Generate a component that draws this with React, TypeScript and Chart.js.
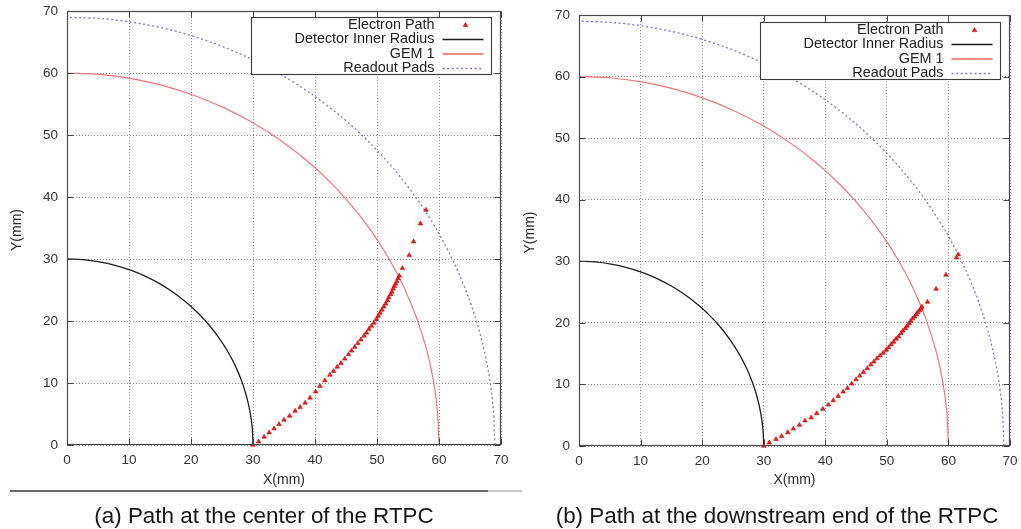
import { useEffect, useRef } from "react";
import { Chart, registerables } from "chart.js";

Chart.register(...registerables);

// ---------- data ----------
const AXIS_TICKS = [0, 10, 20, 30, 40, 50, 60, 70];
const SERIES_LABELS = ["Electron Path", "Detector Inner Radius", "GEM 1", "Readout Pads"];
const X_TITLE = "X(mm)";
const Y_TITLE = "Y(mm)";
const CAPTION_A = "(a) Path at the center of the RTPC";
const CAPTION_B = "(b) Path at the downstream end of the RTPC";

// Detector inner radius (r = 30 mm), points every 5 degrees
const innerRadiusPts: [number, number][] = [
  [30, 0], [29.89, 2.61], [29.54, 5.21], [28.98, 7.76], [28.19, 10.26], [27.19, 12.68],
  [25.98, 15], [24.57, 17.21], [22.98, 19.28], [21.21, 21.21], [19.28, 22.98], [17.21, 24.57],
  [15, 25.98], [12.68, 27.19], [10.26, 28.19], [7.76, 28.98], [5.21, 29.54], [2.61, 29.89], [0, 30],
];

// GEM 1 (r = 60 mm)
const gem1Pts: [number, number][] = [
  [60, 0], [59.77, 5.23], [59.09, 10.42], [57.96, 15.53], [56.38, 20.52], [54.38, 25.36],
  [51.96, 30], [49.15, 34.41], [45.96, 38.57], [42.43, 42.43], [38.57, 45.96], [34.41, 49.15],
  [30, 51.96], [25.36, 54.38], [20.52, 56.38], [15.53, 57.96], [10.42, 59.09], [5.23, 59.77], [0, 60],
];

// Readout pads (r = 69 mm)
const readoutPts: [number, number][] = [
  [69, 0], [68.74, 6.02], [67.95, 11.98], [66.65, 17.86], [64.84, 23.6], [62.53, 29.16],
  [59.75, 34.5], [56.52, 39.58], [52.85, 44.35], [48.79, 48.79], [44.35, 52.85], [39.58, 56.52],
  [34.5, 59.75], [29.16, 62.53], [23.6, 64.84], [17.86, 66.65], [11.98, 67.95], [6.02, 68.74], [0, 69],
];

// Electron path, center of the RTPC
const pathCenter: [number, number][] = [
  [30.0, 0.0], [30.9, 0.55], [31.8, 1.3], [32.6, 2.0], [33.4, 2.65], [34.2, 3.35], [35.0, 4.05],
  [35.9, 4.7], [36.8, 5.5], [37.6, 6.1], [38.4, 6.8], [39.2, 7.6], [40.1, 8.6], [40.8, 9.5],
  [41.6, 10.4], [42.4, 11.3], [43.0, 11.9], [43.6, 12.6], [44.2, 13.2], [44.8, 13.9], [45.4, 14.6],
  [45.9, 15.2], [46.4, 15.8], [46.9, 16.4], [47.4, 17.0], [47.9, 17.6], [48.3, 18.1], [48.7, 18.7],
  [49.1, 19.2], [49.5, 19.7], [49.9, 20.3], [50.2, 20.8], [50.5, 21.3], [50.8, 21.8], [51.1, 22.3],
  [51.4, 22.8], [51.7, 23.3], [51.9, 23.8], [52.2, 24.3], [52.4, 24.7], [52.6, 25.2], [52.8, 25.6],
  [53.0, 26.0], [53.2, 26.4], [53.4, 26.9], [53.6, 27.3],
  [54.1, 28.5], [55.2, 30.6], [55.9, 32.8], [57.0, 35.7], [57.9, 37.9],
];

// Electron path, downstream end of the RTPC
const pathDownstream: [number, number][] = [
  [30.0, 0.0], [30.9, 0.55], [32.0, 1.1], [32.9, 1.6], [33.9, 2.2], [34.8, 2.8], [35.8, 3.4],
  [36.7, 4.1], [37.7, 4.6], [38.6, 5.3], [39.6, 6.0], [40.5, 6.7], [41.3, 7.4], [42.1, 8.1],
  [42.9, 8.8], [43.6, 9.4], [44.3, 10.1], [45.0, 10.8], [45.6, 11.4], [46.2, 12.0], [46.8, 12.6],
  [47.4, 13.2], [47.9, 13.7], [48.4, 14.2], [48.9, 14.7], [49.4, 15.1], [49.9, 15.6], [50.3, 16.0],
  [50.7, 16.5], [51.1, 16.9], [51.5, 17.4], [51.9, 17.8], [52.3, 18.3], [52.6, 18.7], [53.0, 19.1],
  [53.3, 19.5], [53.6, 19.9], [53.9, 20.3], [54.2, 20.7], [54.5, 21.0], [54.8, 21.4], [55.0, 21.7],
  [55.3, 22.0], [55.5, 22.3], [55.7, 22.6],
  [56.6, 23.4], [58.0, 25.5], [59.6, 27.8], [61.3, 30.6], [61.6, 31.1],
];

// ---------- styles ----------
const FONT = '"Liberation Sans", Arial, Helvetica, sans-serif';
const PATH_FILL = "#ff1c1c";
const PATH_EDGE = "#c40000";
const INNER_COLOR = "#1e1e1e";
const GEM_COLOR = "#ee7878";
const PADS_COLOR = "#7a7ae2";
const PADS_DASH = [2, 2.6];

const toXY = (pts: [number, number][]) => pts.map(([x, y]) => ({ x, y }));

const decorPlugin = {
  id: "decor",
  afterDatasetsDraw(chart: any, _args: any, opts: any) {
    const { ctx, chartArea: a, scales } = chart;
    const x = scales.x;
    const y = scales.y;
    const L = Math.round(a.left) + 0.5;
    const R = Math.round(a.right) - 0.5;
    const T = Math.round(a.top) + 0.5;
    const B = Math.round(a.bottom) - 0.5;
    ctx.save();
    // inward ticks (gnuplot style)
    ctx.strokeStyle = "#444";
    ctx.lineWidth = 1;
    ctx.beginPath();
    for (const v of AXIS_TICKS) {
      const px = Math.round(x.getPixelForValue(v)) + 0.5;
      ctx.moveTo(px, B);
      ctx.lineTo(px, B - 6);
      ctx.moveTo(px, T);
      ctx.lineTo(px, T + 6);
      const py = Math.round(y.getPixelForValue(v)) + 0.5;
      ctx.moveTo(L, py);
      ctx.lineTo(L + 6, py);
      ctx.moveTo(R, py);
      ctx.lineTo(R - 6, py);
    }
    ctx.stroke();
    // frame
    ctx.strokeStyle = "#4a4a4a";
    ctx.lineWidth = 1.2;
    ctx.strokeRect(L, T, R - L, B - T);

    // legend box
    const bw = 240;
    const bh = 57;
    const bx = Math.round(a.right - 10 - bw) + 0.5;
    const by = Math.round(a.top + opts.legendTop) + 0.5;
    ctx.fillStyle = "#ffffff";
    ctx.fillRect(bx, by, bw, bh);
    ctx.strokeStyle = "#3a3a3a";
    ctx.lineWidth = 1.1;
    ctx.strokeRect(bx, by, bw, bh);
    ctx.font = `14.4px ${FONT}`;
    ctx.textAlign = "right";
    ctx.textBaseline = "middle";
    SERIES_LABELS.forEach((label, i) => {
      const ry = by + 7.5 + i * 14.5;
      ctx.fillStyle = "#222";
      ctx.fillText(label, bx + bw - 57, ry);
      const s0 = bx + bw - 49;
      const s1 = bx + bw - 8;
      ctx.save();
      if (i === 0) {
        const cx = bx + bw - 26;
        ctx.fillStyle = PATH_FILL;
        ctx.strokeStyle = PATH_EDGE;
        ctx.lineWidth = 0.6;
        ctx.beginPath();
        ctx.moveTo(cx, ry - 2.4);
        ctx.lineTo(cx + 2.3, ry + 1.6);
        ctx.lineTo(cx - 2.3, ry + 1.6);
        ctx.closePath();
        ctx.fill();
        ctx.stroke();
      } else {
        ctx.beginPath();
        if (i === 1) {
          ctx.strokeStyle = INNER_COLOR;
          ctx.lineWidth = 1.4;
        } else if (i === 2) {
          ctx.strokeStyle = "#f06464";
          ctx.lineWidth = 1.4;
        } else {
          ctx.strokeStyle = PADS_COLOR;
          ctx.lineWidth = 1.3;
          ctx.setLineDash(PADS_DASH);
        }
        ctx.moveTo(s0, ry);
        ctx.lineTo(s1, ry);
        ctx.stroke();
      }
      ctx.restore();
    });
    ctx.restore();
  },
  afterDraw(chart: any, _args: any, opts: any) {
    const { ctx, chartArea: a } = chart;
    ctx.save();
    ctx.fillStyle = "#2a2a2a";
    ctx.font = `14px ${FONT}`;
    ctx.textAlign = "center";
    ctx.textBaseline = "middle";
    ctx.fillText(X_TITLE, (a.left + a.right) / 2, opts.xTitleY);
    ctx.translate(opts.yTitleX, (a.top + a.bottom) / 2 + 2);
    ctx.rotate(-Math.PI / 2);
    ctx.fillText(Y_TITLE, 0, 0);
    ctx.restore();
  },
};

type PanelProps = {
  path: [number, number][];
  left: number;
  width: number;
  height: number;
  padTop: number;
  padRight: number;
  yWidth: number;
  xHeight: number;
  legendTop: number;
  yTitleX: number;
  xTitleY: number;
};

const zeroPadding = (s: any) => {
  s.paddingTop = 0;
  s.paddingBottom = 0;
  s.paddingLeft = 0;
  s.paddingRight = 0;
};

function Panel(p: PanelProps) {
  const ref = useRef<HTMLCanvasElement | null>(null);
  useEffect(() => {
    if (!ref.current) return;
    const axisCommon = {
      type: "linear" as const,
      min: 0,
      max: 70,
      ticks: {
        stepSize: 10,
        color: "#333",
        font: { family: FONT, size: 13.5 },
      },
      grid: { color: "#8a8a8a", lineWidth: 1, drawTicks: false },
      border: { display: false, dash: [1, 2] },
    };
    const chart = new Chart(ref.current, {
      type: "scatter",
      data: {
        datasets: [
          {
            label: SERIES_LABELS[0],
            data: toXY(p.path),
            showLine: false,
            pointStyle: "triangle",
            pointRadius: 2.6,
            pointBorderWidth: 0.6,
            backgroundColor: PATH_FILL,
            borderColor: PATH_EDGE,
            clip: 5,
          },
          {
            label: SERIES_LABELS[1],
            data: toXY(innerRadiusPts),
            showLine: true,
            pointRadius: 0,
            borderColor: INNER_COLOR,
            borderWidth: 1.3,
            tension: 0.3,
          },
          {
            label: SERIES_LABELS[2],
            data: toXY(gem1Pts),
            showLine: true,
            pointRadius: 0,
            borderColor: GEM_COLOR,
            borderWidth: 1.2,
            tension: 0.3,
          },
          {
            label: SERIES_LABELS[3],
            data: toXY(readoutPts),
            showLine: true,
            pointRadius: 0,
            borderColor: PADS_COLOR,
            borderWidth: 1.3,
            borderDash: PADS_DASH,
            tension: 0.3,
          },
        ],
      },
      options: {
        animation: false,
        responsive: false,
        maintainAspectRatio: false,
        layout: { padding: { top: p.padTop, right: p.padRight, left: 0, bottom: 0 } },
        plugins: {
          legend: { display: false },
          tooltip: { enabled: false },
          decor: { legendTop: p.legendTop, yTitleX: p.yTitleX, xTitleY: p.xTitleY },
        } as any,
        scales: {
          x: {
            ...axisCommon,
            ticks: { ...axisCommon.ticks, padding: 7 },
            afterFit: (s: any) => {
              s.height = p.xHeight;
              zeroPadding(s);
            },
          },
          y: {
            ...axisCommon,
            ticks: { ...axisCommon.ticks, padding: 9 },
            afterFit: (s: any) => {
              s.width = p.yWidth;
              zeroPadding(s);
            },
          },
        },
      } as any,
      plugins: [decorPlugin as any],
    });
    return () => chart.destroy();
  }, []);
  return (
    <div style={{ position: "absolute", left: p.left, top: 0, width: p.width, height: p.height }}>
      <canvas ref={ref} width={p.width} height={p.height} style={{ display: "block" }} />
    </div>
  );
}

const captionStyle: any = {
  position: "absolute",
  top: 502,
  fontFamily: FONT,
  fontSize: 22.4,
  color: "#161616",
  whiteSpace: "nowrap",
  transform: "translateX(-50%)",
  lineHeight: "28px",
};

export default function App() {
  return (
    <div
      style={{
        position: "absolute",
        left: 0,
        top: 0,
        width: 1021,
        height: 529,
        background: "#ffffff",
        overflow: "hidden",
      }}
    >
      <Panel
        path={pathCenter}
        left={0}
        width={510}
        height={490}
        padTop={11}
        padRight={9}
        yWidth={67}
        xHeight={45}
        legendTop={6}
        yTitleX={17}
        xTitleY={480}
      />
      <Panel
        path={pathDownstream}
        left={510}
        width={511}
        height={491}
        padTop={15}
        padRight={11}
        yWidth={69}
        xHeight={45}
        legendTop={7}
        yTitleX={20}
        xTitleY={480}
      />
      <div style={{ position: "absolute", left: 10, top: 490, width: 478, height: 1.5, background: "#6a6a6a" }} />
      <div style={{ position: "absolute", left: 488, top: 490, width: 34, height: 1.5, background: "#c8c8c8" }} />
      <div style={{ ...captionStyle, left: 264 }}>{CAPTION_A}</div>
      <div style={{ ...captionStyle, left: 777 }}>{CAPTION_B}</div>
    </div>
  );
}
